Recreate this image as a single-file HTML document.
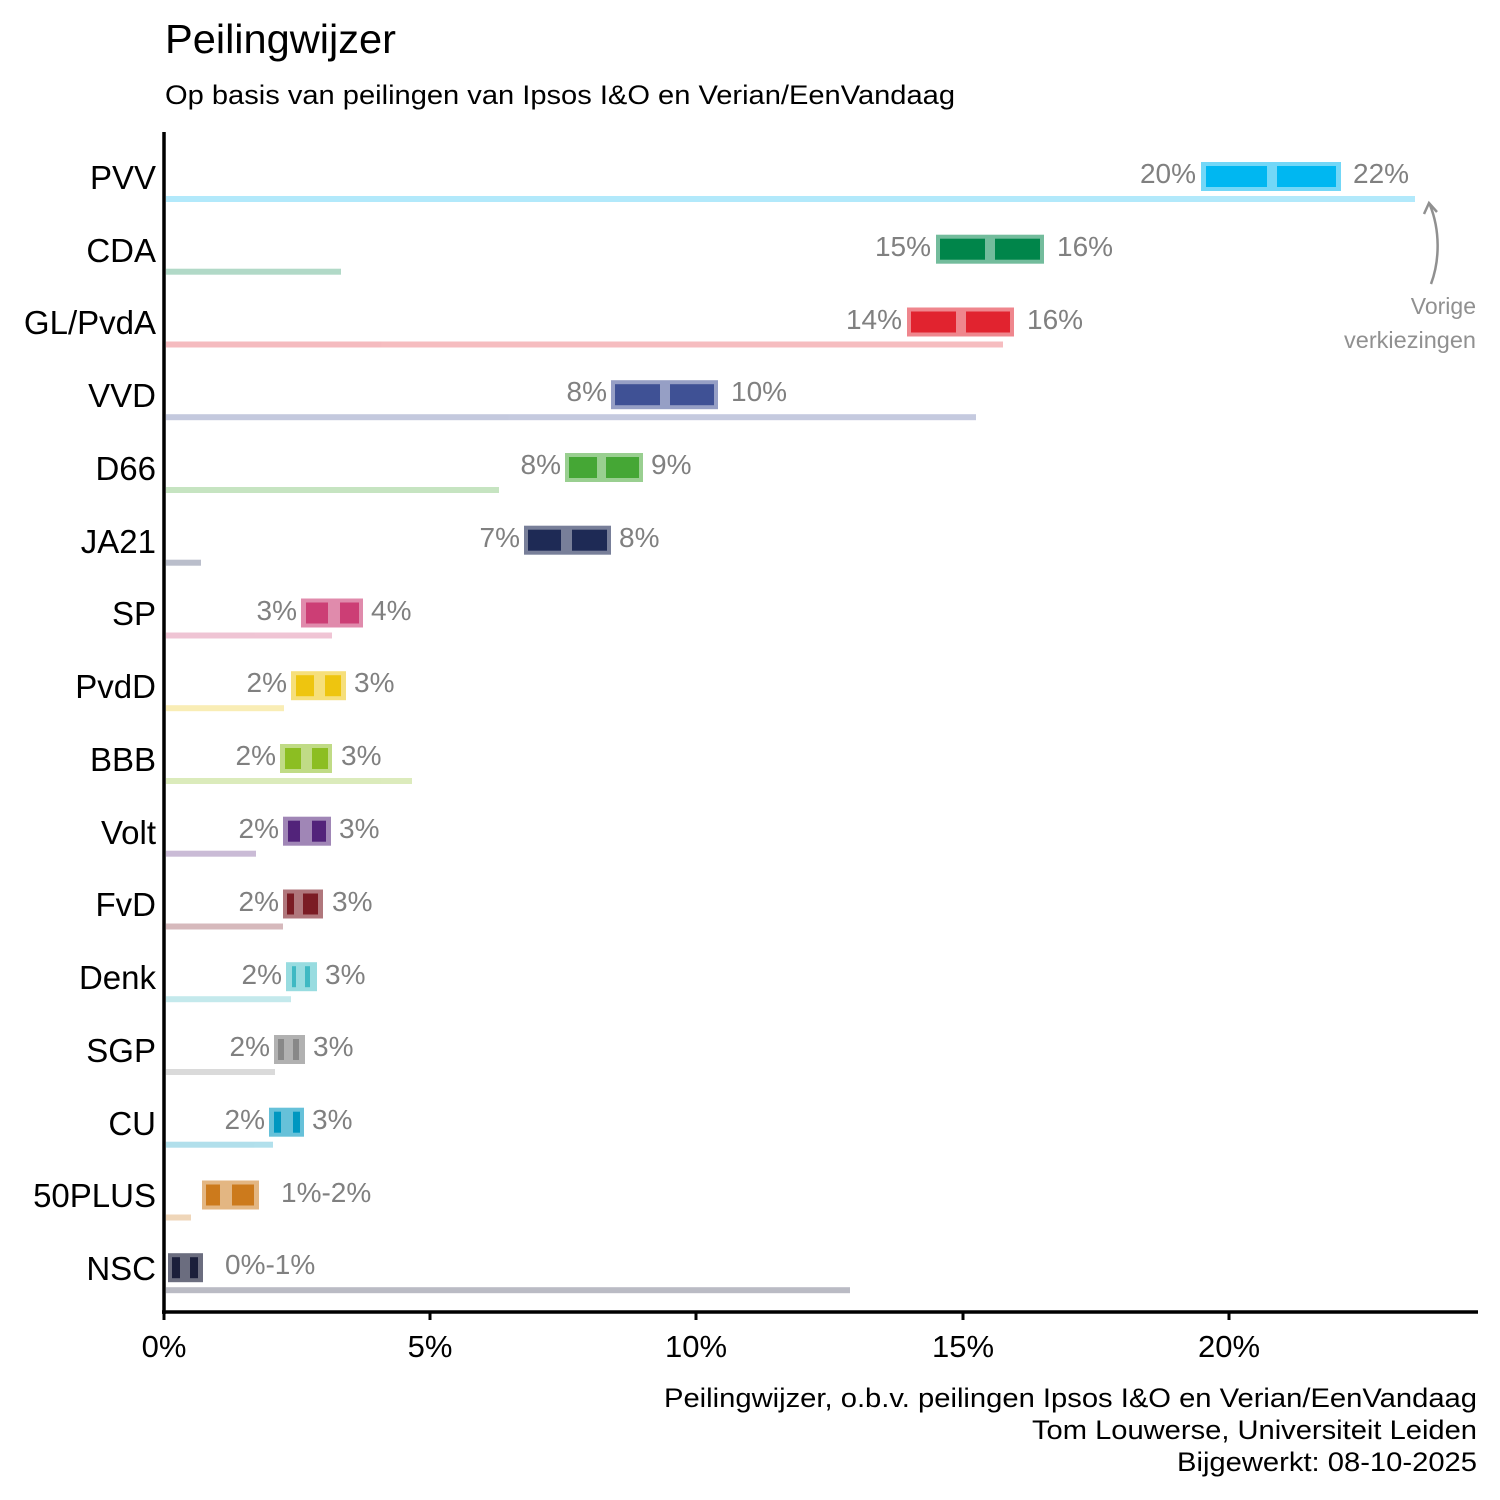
<!DOCTYPE html>
<html><head><meta charset="utf-8"><style>body{margin:0;background:#fff}svg{display:block}</style></head><body>
<svg width="1500" height="1500" xmlns="http://www.w3.org/2000/svg" font-family="Liberation Sans, Arial, sans-serif">
<rect width="1500" height="1500" fill="#fff"/>
<text x="165" y="53" font-size="41" fill="#000" textLength="231" lengthAdjust="spacingAndGlyphs">Peilingwijzer</text>
<text x="165" y="104" font-size="27" fill="#000" textLength="790" lengthAdjust="spacingAndGlyphs">Op basis van peilingen van Ipsos I&amp;O en Verian/EenVandaag</text>

<g opacity="0.3">
<rect x="166" y="196" width="1249" height="6" fill="#00b7f1"/>
<rect x="166" y="268.7" width="175" height="6" fill="#00854a"/>
<rect x="166" y="341.5" width="837" height="6" fill="#e1232f"/>
<rect x="166" y="414.2" width="810" height="6" fill="#3f5195"/>
<rect x="166" y="487" width="333" height="6" fill="#45a735"/>
<rect x="166" y="559.7" width="35" height="6" fill="#1e2a55"/>
<rect x="166" y="632.5" width="166" height="6" fill="#cc3e75"/>
<rect x="166" y="705.2" width="118" height="6" fill="#eec50f"/>
<rect x="166" y="778" width="246" height="6" fill="#8cbe22"/>
<rect x="166" y="850.7" width="90" height="6" fill="#52237a"/>
<rect x="166" y="923.5" width="117" height="6" fill="#7b1c24"/>
<rect x="166" y="996.2" width="125" height="6" fill="#3fb9c3"/>
<rect x="166" y="1069" width="109" height="6" fill="#888"/>
<rect x="166" y="1141.7" width="107" height="6" fill="#0097c0"/>
<rect x="166" y="1214.5" width="25" height="6" fill="#cc7a1c"/>
<rect x="166" y="1287.2" width="684" height="6" fill="#1b1f3b"/>
</g>

<g>
<rect x="1201" y="162" width="140" height="29" fill="#00b7f1" opacity="0.55"/>
<rect x="1206" y="166" width="61" height="21" fill="#00b7f1"/><rect x="1277" y="166" width="59" height="21" fill="#00b7f1"/>
<rect x="936" y="234.7" width="108" height="29" fill="#00854a" opacity="0.55"/>
<rect x="940" y="238.7" width="45" height="21" fill="#00854a"/><rect x="995" y="238.7" width="45" height="21" fill="#00854a"/>
<rect x="907" y="307.5" width="107" height="29" fill="#e1232f" opacity="0.55"/>
<rect x="911" y="311.5" width="45" height="21" fill="#e1232f"/><rect x="966" y="311.5" width="44" height="21" fill="#e1232f"/>
<rect x="611" y="380.2" width="107" height="29" fill="#3f5195" opacity="0.55"/>
<rect x="615" y="384.2" width="45" height="21" fill="#3f5195"/><rect x="670" y="384.2" width="44" height="21" fill="#3f5195"/>
<rect x="565" y="453" width="78" height="29" fill="#45a735" opacity="0.55"/>
<rect x="569" y="457" width="28" height="21" fill="#45a735"/><rect x="606" y="457" width="33" height="21" fill="#45a735"/>
<rect x="524" y="525.7" width="87" height="29" fill="#1e2a55" opacity="0.6"/>
<rect x="528" y="529.7" width="33" height="21" fill="#1e2a55"/><rect x="572" y="529.7" width="35" height="21" fill="#1e2a55"/>
<rect x="301" y="598.5" width="62" height="29" fill="#cc3e75" opacity="0.6"/>
<rect x="306" y="602.5" width="22" height="21" fill="#cc3e75"/><rect x="340" y="602.5" width="19" height="21" fill="#cc3e75"/>
<rect x="291" y="671.2" width="55" height="29" fill="#eec50f" opacity="0.55"/>
<rect x="296" y="675.2" width="18" height="21" fill="#eec50f"/><rect x="325" y="675.2" width="16" height="21" fill="#eec50f"/>
<rect x="280" y="744" width="52" height="29" fill="#8cbe22" opacity="0.55"/>
<rect x="285" y="748" width="16" height="21" fill="#8cbe22"/><rect x="312" y="748" width="16" height="21" fill="#8cbe22"/>
<rect x="283" y="816.7" width="48" height="29" fill="#52237a" opacity="0.55"/>
<rect x="288" y="820.7" width="12" height="21" fill="#52237a"/><rect x="312" y="820.7" width="14" height="21" fill="#52237a"/>
<rect x="283" y="889.5" width="40" height="29" fill="#7b1c24" opacity="0.6"/>
<rect x="287" y="893.5" width="7" height="21" fill="#7b1c24"/><rect x="303" y="893.5" width="15" height="21" fill="#7b1c24"/>
<rect x="286" y="962.2" width="31" height="29" fill="#6ccdd3" opacity="0.7"/>
<rect x="292" y="966.2" width="4" height="21" fill="#3fb9c3"/><rect x="305" y="966.2" width="5" height="21" fill="#3fb9c3"/>
<rect x="274" y="1035" width="31" height="29" fill="#909090" opacity="0.7"/>
<rect x="278" y="1039" width="6" height="21" fill="#888"/><rect x="293" y="1039" width="6" height="21" fill="#888"/>
<rect x="269" y="1107.7" width="35" height="29" fill="#0097c0" opacity="0.6"/>
<rect x="274" y="1111.7" width="7" height="21" fill="#0097c0"/><rect x="293" y="1111.7" width="7" height="21" fill="#0097c0"/>
<rect x="202" y="1180.5" width="57" height="29" fill="#cc7a1c" opacity="0.55"/>
<rect x="206" y="1184.5" width="14" height="21" fill="#cc7a1c"/><rect x="232" y="1184.5" width="22" height="21" fill="#cc7a1c"/>
<rect x="168" y="1253.2" width="35" height="29" fill="#1b1f3b" opacity="0.65"/>
<rect x="172" y="1257.2" width="8" height="21" fill="#1b1f3b"/><rect x="190" y="1257.2" width="8" height="21" fill="#1b1f3b"/>
</g>

<g font-size="28" fill="#808080">
<g text-anchor="end">
<text x="1196" y="183">20%</text>
<text x="931" y="256">15%</text>
<text x="902" y="329">14%</text>
<text x="607" y="401">8%</text>
<text x="561" y="474">8%</text>
<text x="520" y="547">7%</text>
<text x="297" y="620">3%</text>
<text x="287" y="692">2%</text>
<text x="276" y="765">2%</text>
<text x="279" y="838">2%</text>
<text x="279" y="911">2%</text>
<text x="282" y="984">2%</text>
<text x="270" y="1056">2%</text>
<text x="265" y="1129">2%</text>
</g>
<text x="1353" y="183">22%</text>
<text x="1057" y="256">16%</text>
<text x="1027" y="329">16%</text>
<text x="731" y="401">10%</text>
<text x="651" y="474">9%</text>
<text x="619" y="547">8%</text>
<text x="371" y="620">4%</text>
<text x="354" y="692">3%</text>
<text x="341" y="765">3%</text>
<text x="339" y="838">3%</text>
<text x="332" y="911">3%</text>
<text x="325" y="984">3%</text>
<text x="313" y="1056">3%</text>
<text x="312" y="1129">3%</text>
<text x="281" y="1202">1%-2%</text>
<text x="225" y="1274">0%-1%</text>
</g>

<path d="M1431 284 C1440 260 1440 230 1430 205" fill="none" stroke="#909090" stroke-width="2.5"/>
<path d="M1424 214 L1429 203 L1437 212" fill="none" stroke="#909090" stroke-width="2.5"/>
<g font-size="23" fill="#909090" text-anchor="end">
<text x="1476" y="314">Vorige</text>
<text x="1476" y="348" textLength="132" lengthAdjust="spacingAndGlyphs">verkiezingen</text>
</g>

<g font-size="33" fill="#000" text-anchor="end">
<text x="156" y="189">PVV</text>
<text x="156" y="262">CDA</text>
<text x="156" y="334">GL/PvdA</text>
<text x="156" y="407">VVD</text>
<text x="156" y="480">D66</text>
<text x="156" y="553">JA21</text>
<text x="156" y="625">SP</text>
<text x="156" y="698">PvdD</text>
<text x="156" y="771">BBB</text>
<text x="156" y="844">Volt</text>
<text x="156" y="916">FvD</text>
<text x="156" y="989">Denk</text>
<text x="156" y="1062">SGP</text>
<text x="156" y="1135">CU</text>
<text x="156" y="1207">50PLUS</text>
<text x="156" y="1280">NSC</text>
</g>

<line x1="164" y1="132" x2="164" y2="1314" stroke="#000" stroke-width="3.5"/>
<line x1="162" y1="1312" x2="1478" y2="1312" stroke="#000" stroke-width="3.5"/>
<g stroke="#000" stroke-width="3">
<line x1="164" y1="1312" x2="164" y2="1320"/>
<line x1="430" y1="1312" x2="430" y2="1320"/>
<line x1="696" y1="1312" x2="696" y2="1320"/>
<line x1="963" y1="1312" x2="963" y2="1320"/>
<line x1="1229" y1="1312" x2="1229" y2="1320"/>
</g>
<g font-size="31" fill="#000" text-anchor="middle">
<text x="164" y="1357">0%</text>
<text x="430" y="1357">5%</text>
<text x="696" y="1357">10%</text>
<text x="963" y="1357">15%</text>
<text x="1229" y="1357">20%</text>
</g>

<g font-size="27" fill="#000" text-anchor="end">
<text x="1477" y="1407" textLength="813" lengthAdjust="spacingAndGlyphs">Peilingwijzer, o.b.v. peilingen Ipsos I&amp;O en Verian/EenVandaag</text>
<text x="1477" y="1439" textLength="445" lengthAdjust="spacingAndGlyphs">Tom Louwerse, Universiteit Leiden</text>
<text x="1477" y="1471" textLength="300" lengthAdjust="spacingAndGlyphs">Bijgewerkt: 08-10-2025</text>
</g>
</svg>
</body></html>
